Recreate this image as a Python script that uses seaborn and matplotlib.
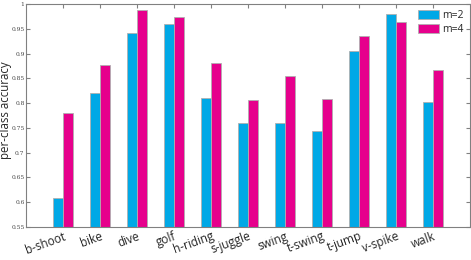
import pandas as pd
import seaborn as sns
import matplotlib.pyplot as plt

classes = ["b-shoot", "bike", "dive", "golf", "h-riding", "s-juggle",
           "swing", "t-swing", "t-jump", "v-spike", "walk"]
acc_m2 = [0.609, 0.820, 0.941, 0.960, 0.810, 0.760, 0.760, 0.743, 0.905, 0.980, 0.802]
acc_m4 = [0.780, 0.876, 0.988, 0.974, 0.881, 0.806, 0.855, 0.808, 0.935, 0.964, 0.866]
yticks = [0.55, 0.6, 0.65, 0.7, 0.75, 0.8, 0.85, 0.9, 0.95, 1]
ytick_labels = ["0.55", "0.6", "0.65", "0.7", "0.75", "0.8", "0.85", "0.9", "0.95", "1"]

df = pd.DataFrame({
    "class": classes * 2,
    "acc": acc_m2 + acc_m4,
    "m": ["m=2"] * len(classes) + ["m=4"] * len(classes),
})

sns.set_style("white")
plt.rcParams["font.family"] = ["Open Sans", "DejaVu Sans"]

fig = plt.figure(figsize=(4.71, 2.6), dpi=100)
ax = fig.add_axes([26 / 471, 33 / 260, 444 / 471, 223 / 260])

sns.barplot(data=df, x="class", y="acc", hue="m", ax=ax,
            palette=["#00a8e6", "#e6008c"], width=0.56, gap=0.04,
            edgecolor="#b0b0b0", linewidth=0.6, saturation=1)

ax.set_xlim(-1, 11)
ax.set_ylim(0.55, 1.0)
ax.set_yticks(yticks)
ax.set_yticklabels(ytick_labels, fontsize=4.3, family="DejaVu Serif", color="#444444")
ax.set_xticks(range(len(classes)))
ax.set_xticklabels(classes, rotation=20, ha="right", rotation_mode="anchor", fontsize=8.5)
ax.set_xlabel("")
ax.set_ylabel("per-class accuracy", fontsize=8.3)
ax.yaxis.set_label_coords(-0.031, 0.525)

for s in ax.spines.values():
    s.set_color("#808080")
    s.set_linewidth(0.8)
ax.tick_params(axis="y", direction="in", length=3, color="#808080", left=True, right=True, pad=1)
ax.tick_params(axis="x", direction="in", length=3, color="#808080", top=True, bottom=False, pad=2)

leg = ax.legend(loc="upper right", frameon=False, fontsize=7.5, handlelength=2.0,
                handleheight=0.9, borderaxespad=0.2, labelspacing=0.3, handletextpad=0.3)

fig.savefig("out.png", dpi=100)
